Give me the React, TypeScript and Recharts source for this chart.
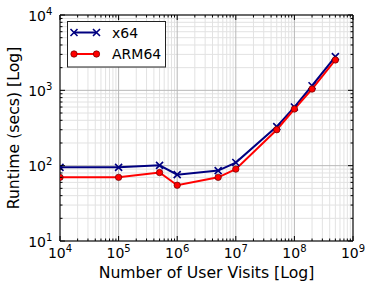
import React from 'react';
import { LineChart, Line, XAxis, YAxis, ReferenceLine, Legend } from 'recharts';

// ---- data ----
const visits = [1e4, 1e5, 5e5, 1e6, 5e6, 1e7, 5e7, 1e8, 2e8, 5e8];
const x64Runtime = [95, 95, 101, 76, 86, 110, 330, 600, 1150, 2800];
const arm64Runtime = [70, 70, 81, 55, 70, 90, 300, 565, 1040, 2530];
const seriesNames = ['x64', 'ARM64'];
const xMajorTicks = [1e4, 1e5, 1e6, 1e7, 1e8, 1e9];
const yMajorTicks = [1e1, 1e2, 1e3, 1e4];
const minorMultipliers = [2, 3, 4, 5, 6, 7, 8, 9];
const xTitle = 'Number of User Visits [Log]';
const yTitle = 'Runtime (secs) [Log]';

const data = visits.map((v, i) => ({ visits: v, x64: x64Runtime[i], arm64: arm64Runtime[i] }));

const minorsOf = (majors: number[]) =>
  majors.slice(0, -1).flatMap((m) => minorMultipliers.map((k) => m * k));
const xMinorTicks = minorsOf(xMajorTicks);
const yMinorTicks = minorsOf(yMajorTicks);
const xAllTicks = [...xMajorTicks, ...xMinorTicks].sort((a, b) => a - b);
const yAllTicks = [...yMajorTicks, ...yMinorTicks].sort((a, b) => a - b);

const isMajor = (v: number) => Math.abs(Math.log10(v) - Math.round(Math.log10(v))) < 1e-9;
const expOf = (v: number) => String(Math.round(Math.log10(v)));

const FONT = 'DejaVu Sans';
const NAVY = '#000080';
const RED = '#ff0000';
const FRAME = '#444';
const MAJ = 5;
const MIN = 2.5;

const XTickBottom = (props: any) => {
  const { x, y, payload } = props;
  const major = isMajor(payload.value);
  return (
    <g>
      <line x1={x} x2={x} y1={y} y2={y - (major ? MAJ : MIN)} stroke="#000" strokeWidth={1} />
      {major && (
        <text x={x} y={y + 17} textAnchor="middle" fontSize={14} fontFamily={FONT} fill="#000">
          10
          <tspan fontSize={10} dy={-6}>{expOf(payload.value)}</tspan>
        </text>
      )}
    </g>
  );
};

const XTickTop = (props: any) => {
  const { x, y, payload } = props;
  const major = isMajor(payload.value);
  return <line x1={x} x2={x} y1={y} y2={y + (major ? MAJ : MIN)} stroke="#000" strokeWidth={1} />;
};

const YTickLeft = (props: any) => {
  const { x, y, payload } = props;
  const major = isMajor(payload.value);
  return (
    <g>
      <line x1={x} x2={x + (major ? MAJ : MIN)} y1={y} y2={y} stroke="#000" strokeWidth={1} />
      {major && (
        <text x={x - 14} y={y + 5.5} textAnchor="end" fontSize={14} fontFamily={FONT} fill="#000">
          10
        </text>
      )}
      {major && (
        <text x={x - 14} y={y - 0.5} textAnchor="start" fontSize={10} fontFamily={FONT} fill="#000">
          {expOf(payload.value)}
        </text>
      )}
    </g>
  );
};

const YTickRight = (props: any) => {
  const { x, y, payload } = props;
  const major = isMajor(payload.value);
  return <line x1={x} x2={x - (major ? MAJ : MIN)} y1={y} y2={y} stroke="#000" strokeWidth={1} />;
};

const CrossDot = (props: any) => {
  const { cx, cy, stroke } = props;
  if (cx == null || cy == null) return null;
  const s = 3.5;
  return (
    <path
      key={`c-${cx}-${cy}`}
      d={`M${cx - s},${cy - s}L${cx + s},${cy + s}M${cx - s},${cy + s}L${cx + s},${cy - s}`}
      stroke={stroke || NAVY}
      strokeWidth={1.6}
      fill="none"
    />
  );
};

const CircleDot = (props: any) => {
  const { cx, cy } = props;
  if (cx == null || cy == null) return null;
  return <circle key={`o-${cx}-${cy}`} cx={cx} cy={cy} r={3.2} fill={RED} stroke="#600" strokeWidth={0.7} />;
};

const LegendBox = (props: any) => {
  const payload = [...(props.payload || [])].sort(
    (a: any, b: any) => seriesNames.indexOf(a.value) - seriesNames.indexOf(b.value)
  );
  return (
    <svg width={99} height={47} style={{ display: 'block' }}>
      <rect x={0.5} y={0.5} width={98} height={45.5} fill="#fff" stroke="#222" strokeWidth={1} />
      {payload.map((p: any, i: number) => {
        const cy = 11.5 + i * 21.5;
        const isX = p.dataKey === 'x64';
        return (
          <g key={p.value}>
            <line x1={7} x2={29.5} y1={cy} y2={cy} stroke={p.color} strokeWidth={2} />
            {isX ? (
              <>
                <CrossDot cx={7} cy={cy} stroke={NAVY} />
                <CrossDot cx={29.5} cy={cy} stroke={NAVY} />
              </>
            ) : (
              <>
                <CircleDot cx={7} cy={cy} />
                <CircleDot cx={29.5} cy={cy} />
              </>
            )}
            <text x={45} y={cy + 5} fontSize={14} fontFamily={FONT} fill="#000">
              {p.value}
            </text>
          </g>
        );
      })}
    </svg>
  );
};

export default function App() {
  return (
    <div style={{ position: 'absolute', left: 0, top: 0, width: 374, height: 288, background: '#fff' }}>
      <LineChart width={374} height={288} data={data} margin={{ top: 0, right: 0, bottom: 0, left: 0 }}>
        <XAxis
          xAxisId="b"
          dataKey="visits"
          type="number"
          scale="log"
          domain={[1e4, 1e9]}
          allowDataOverflow
          ticks={xAllTicks}
          interval={0}
          height={47}
          tickSize={0}
          tickMargin={0}
          tickLine={false}
          tick={XTickBottom}
          axisLine={{ stroke: FRAME, strokeWidth: 1.5 }}
        />
        <XAxis
          xAxisId="t"
          orientation="top"
          dataKey="visits"
          type="number"
          scale="log"
          domain={[1e4, 1e9]}
          allowDataOverflow
          ticks={xAllTicks}
          interval={0}
          height={15}
          tickSize={0}
          tickMargin={0}
          tickLine={false}
          tick={XTickTop}
          axisLine={{ stroke: FRAME, strokeWidth: 1.5 }}
        />
        <YAxis
          yAxisId="l"
          type="number"
          scale="log"
          domain={[10, 1e4]}
          allowDataOverflow
          ticks={yAllTicks}
          interval={0}
          width={60}
          tickSize={0}
          tickMargin={0}
          tickLine={false}
          tick={YTickLeft}
          axisLine={{ stroke: FRAME, strokeWidth: 1.5 }}
        />
        <YAxis
          yAxisId="r"
          orientation="right"
          type="number"
          scale="log"
          domain={[10, 1e4]}
          allowDataOverflow
          ticks={yAllTicks}
          interval={0}
          width={21}
          tickSize={0}
          tickMargin={0}
          tickLine={false}
          tick={YTickRight}
          axisLine={{ stroke: FRAME, strokeWidth: 1.5 }}
        />
        {xMinorTicks.map((v) => (
          <ReferenceLine key={`xm${v}`} xAxisId="b" yAxisId="l" x={v} stroke="#e2e2e2" strokeWidth={1} />
        ))}
        {yMinorTicks.map((v) => (
          <ReferenceLine key={`ym${v}`} xAxisId="b" yAxisId="l" y={v} stroke="#e2e2e2" strokeWidth={1} />
        ))}
        {xMajorTicks.map((v) => (
          <ReferenceLine key={`xM${v}`} xAxisId="b" yAxisId="l" x={v} stroke="#b8b8b8" strokeWidth={1} />
        ))}
        {yMajorTicks.map((v) => (
          <ReferenceLine key={`yM${v}`} xAxisId="b" yAxisId="l" y={v} stroke="#b8b8b8" strokeWidth={1} />
        ))}
        <Legend
          layout="horizontal"
          verticalAlign="middle"
          align="center"
          content={LegendBox}
          wrapperStyle={{ position: 'absolute', left: 67, top: 21, width: 99, height: 47 }}
        />
        <Line
          xAxisId="b"
          yAxisId="l"
          dataKey="x64"
          name={seriesNames[0]}
          stroke={NAVY}
          strokeWidth={2}
          dot={CrossDot}
          activeDot={false}
          isAnimationActive={false}
        />
        <Line
          xAxisId="b"
          yAxisId="l"
          dataKey="arm64"
          name={seriesNames[1]}
          stroke={RED}
          strokeWidth={2}
          dot={CircleDot}
          activeDot={false}
          isAnimationActive={false}
        />
        <text x={206.5} y={278} textAnchor="middle" fontSize={15.7} fontFamily={FONT} fill="#000">
          {xTitle}
        </text>
        <text
          x={18.5}
          y={128}
          textAnchor="middle"
          fontSize={15.7}
          fontFamily={FONT}
          fill="#000"
          transform="rotate(-90, 18.5, 128)"
        >
          {yTitle}
        </text>
      </LineChart>
    </div>
  );
}
